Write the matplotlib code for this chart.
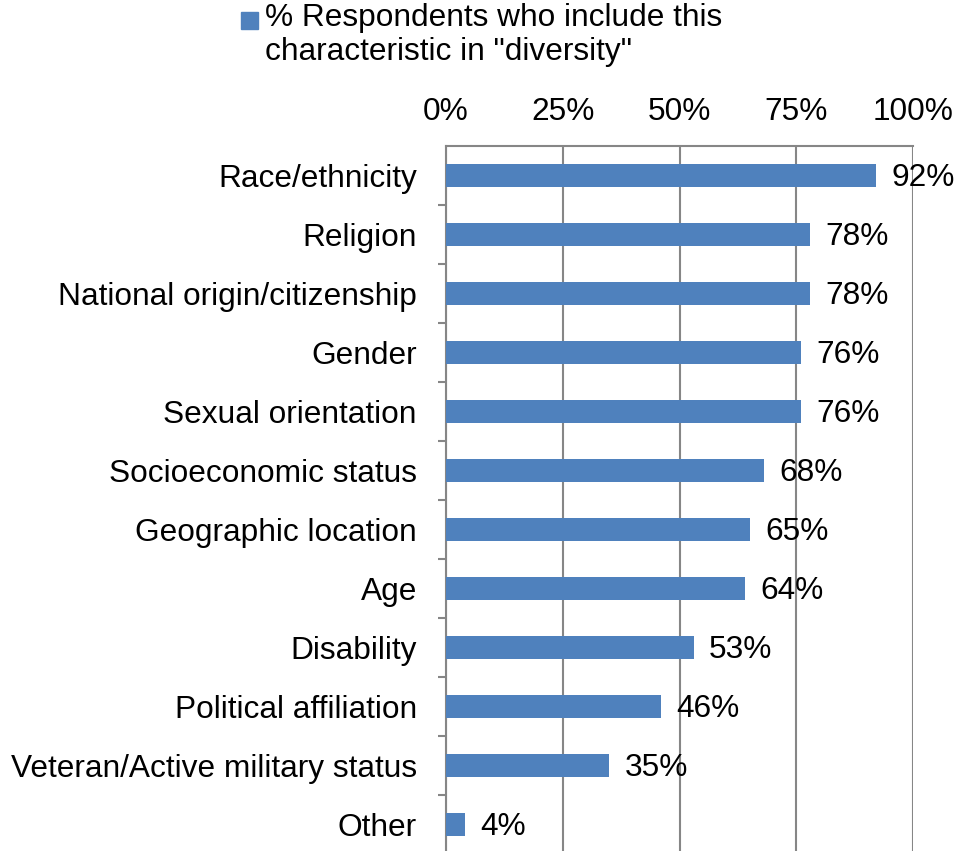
import numpy as np
import matplotlib.pyplot as plt
from matplotlib.patches import Rectangle
from matplotlib.ticker import FixedLocator, PercentFormatter

categories = ["Race/ethnicity", "Religion", "National origin/citizenship", "Gender",
              "Sexual orientation", "Socioeconomic status", "Geographic location", "Age",
              "Disability", "Political affiliation", "Veteran/Active military status", "Other"]
values = [92, 78, 78, 76, 76, 68, 65, 64, 53, 46, 35, 4]
xticks = [0, 25, 50, 75, 100]
series_label = '% Respondents who include this\ncharacteristic in "diversity"'

bar_color = "#4F81BD"
grid_color = "#868686"
fs = 22.8
plt.rcParams['font.family'] = ['Liberation Sans', 'DejaVu Sans']

fig = plt.figure(figsize=(9.55, 8.51), dpi=100)
ax = fig.add_axes([446 / 955, -3 / 851, 467 / 955, 708 / 851])

y = np.arange(len(categories))
ax.barh(y, values, height=0.4, color=bar_color, zorder=3)
for yi, v in zip(y, values):
    ax.text(v + 3.3, yi + 0.04, f"{v}%", va="center", ha="left", fontsize=fs, zorder=4)

ax.set_xlim(0, 100)
ax.set_ylim(len(categories) - 0.5, -0.5)
ax.xaxis.tick_top()
ax.set_xticks(xticks)
ax.xaxis.set_major_formatter(PercentFormatter(decimals=0))
ax.tick_params(axis="x", length=0, pad=14, labelsize=fs)
ax.grid(axis="x", color=grid_color, linewidth=1.5, zorder=0)

ax.set_yticks(y)
ax.set_yticklabels(categories, fontsize=fs)
ax.yaxis.set_minor_locator(FixedLocator(np.arange(len(categories)) + 0.5))
ax.tick_params(axis="y", which="major", length=0, pad=21)
ax.tick_params(axis="y", which="minor", length=6, width=1.5, color=grid_color)

for side in ["right", "bottom"]:
    ax.spines[side].set_visible(False)
for side in ["top", "left"]:
    ax.spines[side].set_color(grid_color)
    ax.spines[side].set_linewidth(1.5)

# legend drawn by hand so the swatch sits on the first line
fig.patches.append(Rectangle((241 / 955, 1 - 29 / 851), 17 / 955, 17 / 851,
                             transform=fig.transFigure, color=bar_color, figure=fig))
fig.text(265 / 955, 1 - 3 / 851, series_label, ha="left", va="top",
         fontsize=fs, linespacing=1.18)

fig.savefig("out.png", dpi=100)
